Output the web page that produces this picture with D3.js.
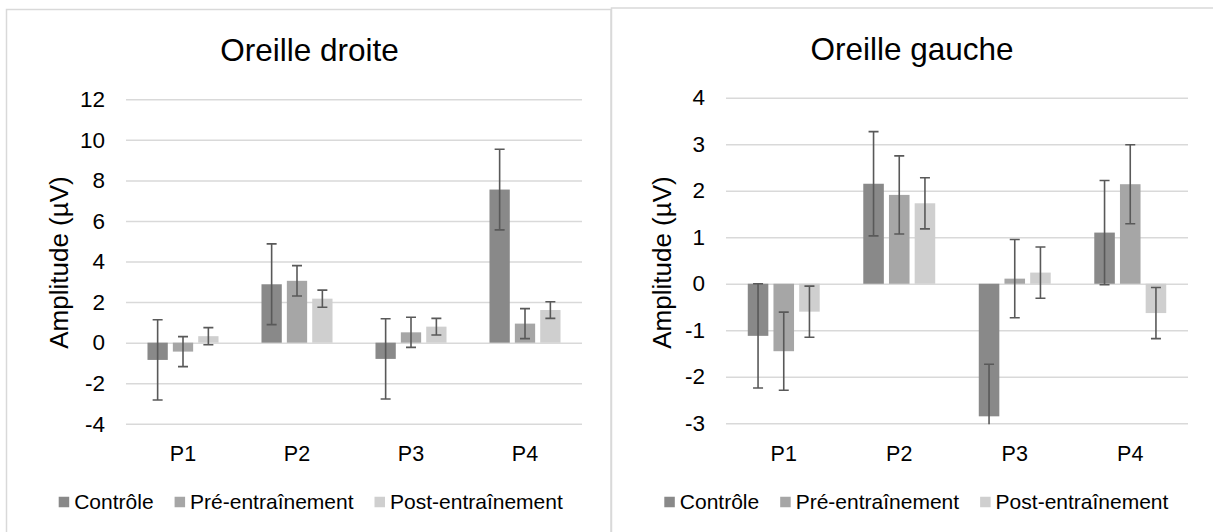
<!DOCTYPE html>
<html lang="fr">
<head>
<meta charset="utf-8">
<title>Amplitude P1–P4 – oreille droite / oreille gauche</title>
<script src="https://cdn.jsdelivr.net/npm/d3@7"></script>
<style>
  html, body { margin: 0; padding: 0; background: #ffffff; }
  svg { display: block; font-family: "Liberation Sans", Arial, sans-serif; }
</style>
</head>
<body>
<svg id="chart" width="1213" height="532"></svg>
<script>
// Categories and series
const categories = ["P1", "P2", "P3", "P4"];
const seriesNames = ["Contrôle", "Pré-entraînement", "Post-entraînement"];
const seriesColors = ["#898989", "#a6a6a6", "#cfcfcf"];

// Oreille droite: means and error half-widths (µV)
const droiteControle = [-0.85, 2.88, -0.80, 7.55];
const droitePre = [-0.44, 3.05, 0.51, 0.94];
const droitePost = [0.32, 2.17, 0.79, 1.61];
const droiteErrControle = [1.98, 1.99, 1.98, 1.99];
const droiteErrPre = [0.74, 0.75, 0.74, 0.74];
const droiteErrPost = [0.42, 0.42, 0.41, 0.41];
const droiteTicks = [-4, -2, 0, 2, 4, 6, 8, 10, 12];

// Oreille gauche: means and error half-widths (µV)
const gaucheControle = [-1.12, 2.15, -2.85, 1.10];
const gauchePre = [-1.45, 1.91, 0.11, 2.14];
const gauchePost = [-0.60, 1.73, 0.24, -0.63];
const gaucheErrControle = [1.12, 1.12, 1.12, 1.12];
const gaucheErrPre = [0.84, 0.84, 0.84, 0.85];
const gaucheErrPost = [0.55, 0.55, 0.55, 0.55];
const gaucheTicks = [-3, -2, -1, 0, 1, 2, 3, 4];

const svg = d3.select("#chart");

function drawChart(cfg) {
  const g = svg.append("g");

  // chart area frame
  g.append("rect")
    .attr("x", cfg.frame.x).attr("y", cfg.frame.y)
    .attr("width", cfg.frame.w).attr("height", cfg.frame.h)
    .attr("fill", "#ffffff").attr("stroke", "#d9d9d9").attr("stroke-width", 1.5);

  const y = d3.scaleLinear()
    .domain([d3.min(cfg.ticks), d3.max(cfg.ticks)])
    .range([cfg.plot.bottom, cfg.plot.top]);

  const x0 = d3.scaleBand()
    .domain(categories)
    .range([cfg.plot.left, cfg.plot.right])
    .paddingInner(0.377)
    .paddingOuter(0.1885);

  const x1 = d3.scaleBand()
    .domain(seriesNames)
    .range([0, x0.bandwidth()])
    .paddingInner(0.2)
    .paddingOuter(0);

  // horizontal gridlines
  const grid = g.append("g")
    .attr("transform", `translate(${cfg.plot.left},0)`)
    .call(d3.axisLeft(y)
      .tickValues(cfg.ticks)
      .tickSize(-(cfg.plot.right - cfg.plot.left))
      .tickFormat(""));
  grid.select(".domain").remove();
  grid.selectAll("line").attr("stroke", "#d9d9d9").attr("stroke-width", 1.5);

  // y tick labels
  const yAxis = g.append("g")
    .attr("transform", `translate(${cfg.yLabelX},0)`)
    .call(d3.axisLeft(y).tickValues(cfg.ticks).tickSize(0).tickPadding(0)
      .tickFormat(d => String(d)));
  yAxis.select(".domain").remove();
  yAxis.selectAll("text")
    .attr("font-size", 22.5).attr("fill", "#000")
    .attr("font-family", "'Liberation Sans', Arial, sans-serif");

  // x category labels
  const xAxis = g.append("g")
    .attr("transform", `translate(0,${cfg.xLabelY})`)
    .call(d3.axisBottom(x0).tickSize(0).tickPadding(0));
  xAxis.select(".domain").remove();
  xAxis.selectAll("text")
    .attr("font-size", 21.5).attr("fill", "#000").attr("dy", "0.35em")
    .attr("font-family", "'Liberation Sans', Arial, sans-serif");

  // rows: one record per category and series
  const rows = [];
  categories.forEach((c, i) => {
    seriesNames.forEach((s, k) => {
      rows.push({ cat: c, series: s, k, value: cfg.values[k][i], err: cfg.errors[k][i] });
    });
  });

  // bars
  g.append("g").selectAll("rect")
    .data(rows)
    .join("rect")
    .attr("x", d => x0(d.cat) + x1(d.series))
    .attr("width", x1.bandwidth())
    .attr("y", d => y(Math.max(0, d.value)))
    .attr("height", d => Math.abs(y(d.value) - y(0)))
    .attr("fill", d => seriesColors[d.k]);

  // error bars, clipped to the plot area
  const clipId = "clip-" + cfg.id;
  g.append("clipPath").attr("id", clipId)
    .append("rect")
    .attr("x", cfg.plot.left - 20).attr("y", cfg.plot.top - 1)
    .attr("width", cfg.plot.right - cfg.plot.left + 40)
    .attr("height", cfg.plot.bottom - cfg.plot.top + 2);

  const eb = g.append("g").attr("clip-path", `url(#${clipId})`)
    .selectAll("g")
    .data(rows)
    .join("g")
    .attr("stroke", "#595959").attr("stroke-width", 1.6);
  const cx = d => x0(d.cat) + x1(d.series) + x1.bandwidth() / 2;
  const capW = 5;
  eb.append("line")
    .attr("x1", cx).attr("x2", cx)
    .attr("y1", d => y(d.value + d.err)).attr("y2", d => y(d.value - d.err));
  eb.append("line")
    .attr("x1", d => cx(d) - capW).attr("x2", d => cx(d) + capW)
    .attr("y1", d => y(d.value + d.err)).attr("y2", d => y(d.value + d.err));
  eb.append("line")
    .attr("x1", d => cx(d) - capW).attr("x2", d => cx(d) + capW)
    .attr("y1", d => y(d.value - d.err)).attr("y2", d => y(d.value - d.err));

  // title
  g.append("text")
    .attr("x", cfg.titleX).attr("y", cfg.titleY)
    .attr("text-anchor", "middle").attr("dy", "0.35em")
    .attr("font-size", 31.5).attr("fill", "#000")
    .text(cfg.title);

  // y axis title
  g.append("text")
    .attr("transform", `translate(${cfg.axisTitleX},${cfg.axisTitleY}) rotate(-90)`)
    .attr("text-anchor", "middle").attr("dy", "0.35em")
    .attr("font-size", 26).attr("fill", "#000")
    .text("Amplitude (µV)");

  // legend
  const legend = g.append("g")
    .attr("transform", `translate(${cfg.legendX},${cfg.legendY})`);
  let lx = 0;
  seriesNames.forEach((s, k) => {
    legend.append("rect")
      .attr("x", lx).attr("y", -5.25)
      .attr("width", 10.5).attr("height", 10.5)
      .attr("fill", seriesColors[k]);
    const t = legend.append("text")
      .attr("x", lx + 15.5).attr("y", 0).attr("dy", "0.35em")
      .attr("font-size", 21).attr("fill", "#000")
      .text(s);
    lx += 15.5 + t.node().getComputedTextLength() + 21;
  });
}

drawChart({
  id: "droite",
  title: "Oreille droite",
  frame: { x: 6.5, y: 9.5, w: 604.5, h: 600 },
  plot: { left: 126, right: 582, top: 99.3, bottom: 423.8 },
  ticks: droiteTicks,
  values: [droiteControle, droitePre, droitePost],
  errors: [droiteErrControle, droiteErrPre, droiteErrPost],
  yLabelX: 105,
  xLabelY: 453.5,
  titleX: 309.5, titleY: 49.5,
  axisTitleX: 58.5, axisTitleY: 262.5,
  legendX: 58.7, legendY: 502
});

drawChart({
  id: "gauche",
  title: "Oreille gauche",
  frame: { x: 611.5, y: 8, w: 700, h: 600 },
  plot: { left: 726, right: 1188, top: 97.7, bottom: 423.3 },
  ticks: gaucheTicks,
  values: [gaucheControle, gauchePre, gauchePost],
  errors: [gaucheErrControle, gaucheErrPre, gaucheErrPost],
  yLabelX: 705,
  xLabelY: 453.5,
  titleX: 912, titleY: 49,
  axisTitleX: 662, axisTitleY: 262.5,
  legendX: 664.3, legendY: 502
});
</script>
</body>
</html>
